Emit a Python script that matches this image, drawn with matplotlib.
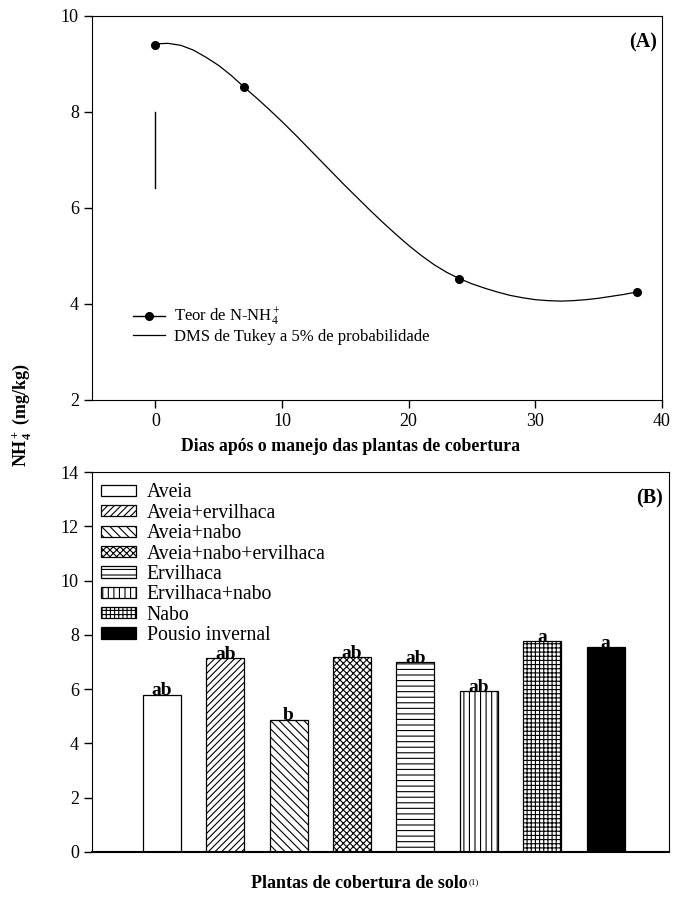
import numpy as np
import matplotlib
matplotlib.use("Agg")
import matplotlib.pyplot as plt
from matplotlib.lines import Line2D

plt.rcParams['font.family'] = ['Liberation Serif', 'DejaVu Serif']
plt.rcParams['mathtext.fontset'] = 'custom'
plt.rcParams['mathtext.rm'] = 'Liberation Serif'
plt.rcParams['mathtext.it'] = 'Liberation Serif:italic'
plt.rcParams['mathtext.bf'] = 'Liberation Serif:bold'
plt.rcParams['hatch.linewidth'] = 0.8

# Panel A: N-NH4+ over days after cover crop management
days = [0, 7, 24, 38]
nh4_days = [9.40, 8.52, 4.53, 4.26]
# fitted curve
curve_days = list(range(0, 39))
curve_nh4 = [9.42, 9.43, 9.39, 9.29, 9.14, 8.97, 8.76, 8.52, 8.29, 8.05,
             7.80, 7.54, 7.27, 7.00, 6.73, 6.46, 6.20, 5.94, 5.69, 5.45,
             5.22, 5.01, 4.82, 4.66, 4.53, 4.42, 4.33, 4.25, 4.18, 4.13,
             4.09, 4.07, 4.06, 4.07, 4.09, 4.12, 4.16, 4.20, 4.25]
dms_x = 0
dms_range = [6.42, 8.0]

# Panel B: cover crops
crops = ["Aveia", "Aveia+ervilhaca", "Aveia+nabo", "Aveia+nabo+ervilhaca",
         "Ervilhaca", "Ervilhaca+nabo", "Nabo", "Pousio invernal"]
nh4_crops = [5.80, 7.15, 4.88, 7.18, 7.00, 5.93, 7.78, 7.55]
letters = ["ab", "ab", "b", "ab", "ab", "ab", "a", "a"]
hatches = ["", "/////", "\\\\\\\\", "xxxxx", "---", "|||", "++++", ""]
fills = ["white"] * 7 + ["black"]

W, H = 674, 899
fig = plt.figure(figsize=(W / 100, H / 100), dpi=100)

# ---------- Panel A ----------
axA = fig.add_axes([92 / W, 1 - 400 / H, (662 - 92) / W, (400 - 16) / H])
axA.plot(curve_days, curve_nh4, color="black", lw=0.9)
axA.plot(days, nh4_days, "o", color="black", ms=5.5)
axA.plot([dms_x, dms_x], dms_range, color="black", lw=1.0)
axA.set_xlim(-5, 40)
axA.set_ylim(2, 10)
axA.set_xticks([0, 10, 20, 30, 40])
axA.set_yticks([2, 4, 6, 8, 10])
axA.tick_params(direction="out", length=6, width=1, labelsize=13)
axA.set_xlabel("Dias após o manejo das plantas de cobertura",
               fontsize=12.8, fontweight="bold", va="center")
axA.xaxis.set_label_coords(0.454, -0.122)
axA.text(0.992, 0.93, "(A)", transform=axA.transAxes, ha="right", va="center",
         fontsize=14.5, fontweight="bold")
handles = [Line2D([], [], color="black", lw=1, marker="o", ms=5.5),
           Line2D([], [], color="black", lw=0.9)]
axA.legend(handles, [r"Teor de N-NH$_4^+$", "DMS de Tukey a 5% de probabilidade"],
           loc="upper left", bbox_to_anchor=(0.072, 0.245), frameon=False,
           fontsize=12, handlelength=1.9, handletextpad=0.55, labelspacing=0.05,
           borderpad=0, borderaxespad=0)

# ---------- Panel B ----------
axB = fig.add_axes([92 / W, 1 - 852 / H, (669 - 92) / W, (852 - 472) / H])
pos = np.arange(len(crops))
bars = axB.bar(pos, nh4_crops, width=0.6, color=fills, edgecolor="black",
               linewidth=0.9)
for b, h in zip(bars, hatches):
    b.set_hatch(h)
for p, v, t in zip(pos, nh4_crops, letters):
    axB.text(p, v - 0.03, t, ha="center", va="baseline", fontsize=14,
             fontweight="bold")
axB.set_xlim(-1.10, 8.0)
axB.set_ylim(0, 14)
axB.set_yticks(range(0, 15, 2))
axB.set_xticks([])
axB.spines["bottom"].set_linewidth(1.5)
axB.tick_params(axis="y", direction="out", length=6, width=1, labelsize=13)
axB.text(0.99, 0.93, "(B)", transform=axB.transAxes, ha="right", va="center",
         fontsize=14.5, fontweight="bold")
axB.legend(bars, crops, loc="upper left", bbox_to_anchor=(0.016, 0.97),
           frameon=False, fontsize=14.2, handlelength=1.75, handleheight=0.5,
           handletextpad=0.55, labelspacing=0.07, borderpad=0, borderaxespad=0)

xlab = fig.text(359 / W, 1 - 884 / H, "Plantas de cobertura de solo",
                ha="center", va="center", fontsize=13, fontweight="bold")
fig.canvas.draw()
axB.annotate("(1)", xy=(1.0, 0.85), xycoords=xlab, xytext=(1, 0),
             textcoords="offset points", ha="left", va="top", fontsize=6.5)

fig.text(22 / W, 1 - 415 / H, r"$\mathbf{NH_4^+}$ (mg/kg)", rotation=90,
         ha="center", va="center", fontsize=13, fontweight="bold")

fig.savefig("out.png", dpi=100)
